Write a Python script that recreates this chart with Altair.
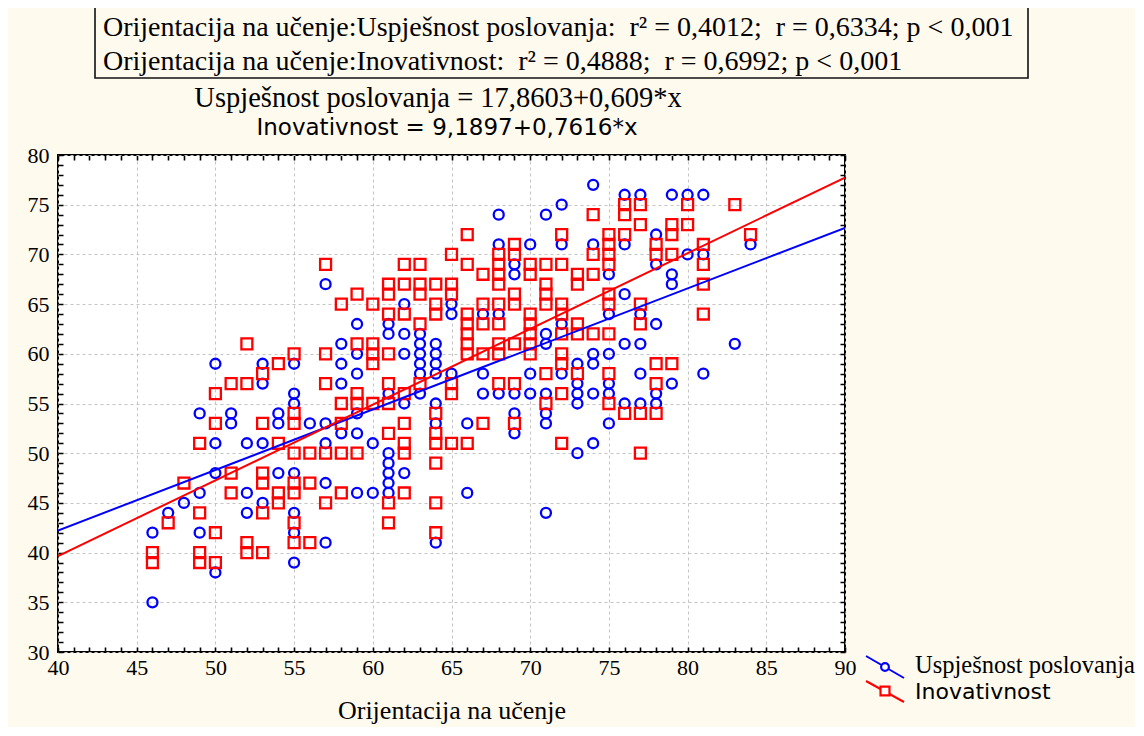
import altair as alt
import pandas as pd

# ---------------- data ----------------
blue_pts = [
    (46, 42), (46, 35), (47, 44), (48, 45),
    (49, 54), (49, 46), (49, 42),
    (50, 59), (50, 51), (50, 48), (50, 38),
    (51, 54), (51, 53),
    (52, 51), (52, 46), (52, 44),
    (53, 59), (53, 57), (53, 51), (53, 45),
    (54, 54), (54, 53), (54, 48),
    (55, 59), (55, 56), (55, 55), (55, 48), (55, 44), (55, 42), (55, 39),
    (56, 53),
    (57, 67), (57, 53), (57, 51), (57, 47), (57, 41),
    (58, 61), (58, 59), (58, 57), (58, 52),
    (59, 63), (59, 60), (59, 58), (59, 54), (59, 52), (59, 46),
    (60, 51), (60, 46),
    (61, 63), (61, 62), (61, 56), (61, 50), (61, 49), (61, 48), (61, 47), (61, 46),
    (62, 65), (62, 62), (62, 60), (62, 55), (62, 48),
    (63, 62), (63, 61), (63, 60), (63, 59), (63, 58), (63, 56),
    (64, 61), (64, 60), (64, 59), (64, 58), (64, 55), (64, 53), (64, 41),
    (65, 65), (65, 64), (65, 58),
    (66, 53), (66, 46),
    (67, 64), (67, 58), (67, 56),
    (68, 74), (68, 71), (68, 64), (68, 56),
    (69, 69), (69, 68), (69, 56), (69, 54), (69, 52),
    (70, 71), (70, 58), (70, 56),
    (71, 74), (71, 62), (71, 61), (71, 56), (71, 54), (71, 53), (71, 44),
    (72, 75), (72, 71), (72, 63), (72, 58),
    (73, 59), (73, 57), (73, 56), (73, 55), (73, 50),
    (74, 77), (74, 71), (74, 60), (74, 59), (74, 56), (74, 51),
    (75, 68), (75, 64), (75, 60), (75, 57), (75, 56), (75, 53),
    (76, 76), (76, 71), (76, 66), (76, 61), (76, 55),
    (77, 76), (77, 64), (77, 61), (77, 58), (77, 55),
    (78, 72), (78, 69), (78, 63), (78, 56), (78, 55),
    (79, 76), (79, 68), (79, 67), (79, 57),
    (80, 76), (80, 70),
    (81, 76), (81, 70), (81, 58),
    (83, 61), (84, 71),
]

red_pts = [
    (46, 40), (46, 39), (47, 43), (48, 47),
    (49, 51), (49, 44), (49, 40), (49, 39),
    (50, 56), (50, 53), (50, 42), (50, 39),
    (51, 57), (51, 48), (51, 46),
    (52, 61), (52, 57), (52, 41), (52, 40),
    (53, 58), (53, 53), (53, 48), (53, 47), (53, 44), (53, 40),
    (54, 59), (54, 51), (54, 46), (54, 45),
    (55, 60), (55, 54), (55, 53), (55, 50), (55, 47), (55, 46), (55, 43), (55, 41),
    (56, 50), (56, 47), (56, 41),
    (57, 69), (57, 60), (57, 57), (57, 50), (57, 45),
    (58, 65), (58, 55), (58, 53), (58, 50), (58, 46),
    (59, 66), (59, 61), (59, 56), (59, 55), (59, 50),
    (60, 65), (60, 61), (60, 60), (60, 59), (60, 55),
    (61, 67), (61, 66), (61, 64), (61, 60), (61, 57), (61, 55), (61, 52), (61, 45), (61, 43),
    (62, 69), (62, 67), (62, 64), (62, 56), (62, 53), (62, 51), (62, 50), (62, 46),
    (63, 69), (63, 67), (63, 66), (63, 63), (63, 57),
    (64, 67), (64, 65), (64, 64), (64, 54), (64, 52), (64, 51), (64, 49), (64, 45), (64, 42),
    (65, 70), (65, 67), (65, 66), (65, 57), (65, 56), (65, 51),
    (66, 72), (66, 69), (66, 64), (66, 63), (66, 62), (66, 61), (66, 60), (66, 51),
    (67, 68), (67, 65), (67, 63), (67, 60), (67, 53),
    (68, 70), (68, 69), (68, 68), (68, 67), (68, 65), (68, 63), (68, 61), (68, 60), (68, 57),
    (69, 71), (69, 70), (69, 66), (69, 65), (69, 61), (69, 57), (69, 53),
    (70, 69), (70, 68), (70, 64), (70, 63), (70, 62), (70, 61), (70, 60),
    (71, 69), (71, 67), (71, 66), (71, 65), (71, 58), (71, 55),
    (72, 72), (72, 69), (72, 65), (72, 64), (72, 62), (72, 60), (72, 59), (72, 56), (72, 51),
    (73, 68), (73, 67), (73, 63), (73, 62), (73, 58),
    (74, 74), (74, 70), (74, 68), (74, 62),
    (75, 72), (75, 71), (75, 70), (75, 69), (75, 66), (75, 65), (75, 62), (75, 58), (75, 55),
    (76, 75), (76, 74), (76, 72), (76, 54),
    (77, 75), (77, 73), (77, 65), (77, 63), (77, 54), (77, 50),
    (78, 71), (78, 70), (78, 59), (78, 57), (78, 54),
    (79, 73), (79, 72), (79, 70), (79, 59),
    (80, 75), (80, 73),
    (81, 71), (81, 69), (81, 67), (81, 64),
    (83, 75), (84, 72),
]

# regression lines as printed on the chart
series_names = ["Uspješnost poslovanja", "Inovativnost"]
intercepts = [17.8603, 9.1897]
slopes = [0.609, 0.7616]
line_x = [40, 90]

x_domain = [40, 90]
y_domain = [30, 80]
x_major = list(range(40, 91, 5))
y_major = list(range(30, 81, 5))
x_minor = list(range(40, 91))
y_minor = list(range(30, 81))

NB = "\u00a0"
stats_lines = [
    f"Orijentacija na učenje:Uspješnost poslovanja:{NB}{NB}r² = 0,4012;{NB}{NB}r = 0,6334; p < 0,001",
    f"Orijentacija na učenje:Inovativnost:{NB}{NB}r² = 0,4888;{NB}{NB}r = 0,6992; p < 0,001",
]
eq_lines = [
    "Uspješnost poslovanja = 17,8603+0,609*x",
    "Inovativnost = 9,1897+0,7616*x",
]
x_title = "Orijentacija na učenje"

# ---------------- build tables ----------------
df_blue = pd.DataFrame(blue_pts, columns=["x", "y"])
df_red = pd.DataFrame(red_pts, columns=["x", "y"])
df_lines = pd.DataFrame(
    [
        {"s": name, "x": xv, "y": a + b * xv, "o": i}
        for name, a, b in zip(series_names, intercepts, slopes)
        for i, xv in enumerate(line_x)
    ]
)
one = pd.DataFrame({"k": [0]})

W, H = 787, 497
SERIF = "Liberation Serif"
SANS = "DejaVu Sans"
BLUE = "#0000FF"
RED = "#FF0000"
GRID = "#c4c4c4"

# major axes: labels + dashed grey grid
x_axis_major = alt.Axis(
    orient="bottom", values=x_major, labelOverlap=False, labelFlush=False,
    labelFont=SERIF, labelFontSize=22,
    labelColor="black", labelPadding=5, ticks=False, domain=False,
    grid=True, gridColor=GRID, gridDash=[3, 3], gridWidth=1,
    title=x_title, titleFont=SERIF, titleFontSize=26, titleFontWeight="normal",
    titleColor="black", titlePadding=19,
)
y_axis_major = alt.Axis(
    orient="left", values=y_major, labelOverlap=False, labelFlush=False,
    labelFont=SERIF, labelFontSize=22,
    labelColor="black", labelPadding=9, ticks=False, domain=False,
    grid=True, gridColor=GRID, gridDash=[3, 3], gridWidth=1, title=None,
)
# minor axes: only the short inward tick marks on every side of the frame
x_axis_minor = alt.Axis(
    orient="top", values=x_minor, labels=False, ticks=False, domain=False,
    grid=True, gridColor="black", gridDash=[5, H - 10, 5, 3000], gridWidth=1.6, title=None,
)
y_axis_minor = alt.Axis(
    orient="right", values=y_minor, labels=False, ticks=False, domain=False,
    grid=True, gridColor="black", gridDash=[5, W - 10, 5, 3000], gridWidth=1.6, title=None,
)

xs = alt.Scale(domain=x_domain, nice=False, zero=False)
ys = alt.Scale(domain=y_domain, nice=False, zero=False)

blue_layer = alt.Chart(df_blue).mark_point(
    shape="circle", filled=False, color=BLUE, size=100, strokeWidth=2.3, opacity=1
).encode(x=alt.X("x:Q", scale=xs, axis=x_axis_major), y=alt.Y("y:Q", scale=ys, axis=y_axis_major))

red_layer = alt.Chart(df_red).mark_point(
    shape="square", filled=False, color=RED, size=120, strokeWidth=2.3, opacity=1
).encode(x=alt.X("x:Q", scale=xs, axis=x_axis_minor), y=alt.Y("y:Q", scale=ys, axis=y_axis_minor))

line_layer = alt.Chart(df_lines).mark_line(strokeWidth=2, clip=True).encode(
    x=alt.X("x:Q", scale=xs, axis=None),
    y=alt.Y("y:Q", scale=ys, axis=None),
    color=alt.Color("s:N", scale=alt.Scale(domain=series_names, range=[BLUE, RED]), legend=None),
    order="o:Q",
)

# ---------- annotation box at the top ----------
box = alt.Chart(one).mark_rect(fillOpacity=0, stroke="#111111", strokeWidth=1.6).encode(
    x=alt.value(37), x2=alt.value(970), y=alt.value(-175), y2=alt.value(-77)
)
stat1 = alt.Chart(one).mark_text(
    text=stats_lines[0], align="left", baseline="middle", font=SERIF, fontSize=28, color="black"
).encode(x=alt.value(45), y=alt.value(-127))
stat2 = alt.Chart(one).mark_text(
    text=stats_lines[1], align="left", baseline="middle", font=SERIF, fontSize=28, color="black"
).encode(x=alt.value(45), y=alt.value(-93))
eq1 = alt.Chart(one).mark_text(
    text=eq_lines[0], align="center", baseline="middle", font=SERIF, fontSize=28.5, color="black"
).encode(x=alt.value(380), y=alt.value(-57))
eq2 = alt.Chart(one).mark_text(
    text=eq_lines[1], align="center", baseline="middle", font=SANS, fontSize=23, color="black"
).encode(x=alt.value(389), y=alt.value(-27))

# ---------- legend (bottom right) ----------
leg_b_line = alt.Chart(one).mark_rule(color=BLUE, strokeWidth=2).encode(
    x=alt.value(808), x2=alt.value(846), y=alt.value(501), y2=alt.value(523)
)
leg_b_pt = alt.Chart(one).mark_point(
    shape="circle", filled=True, fill="white", stroke=BLUE, strokeWidth=2.2, size=60, opacity=1
).encode(x=alt.value(827), y=alt.value(512))
leg_b_txt = alt.Chart(one).mark_text(
    text=series_names[0], align="left", baseline="middle", font=SERIF, fontSize=24.5, color="black"
).encode(x=alt.value(857), y=alt.value(511))
leg_r_line = alt.Chart(one).mark_rule(color=RED, strokeWidth=2).encode(
    x=alt.value(808), x2=alt.value(846), y=alt.value(526), y2=alt.value(547)
)
leg_r_pt = alt.Chart(one).mark_point(
    shape="square", filled=True, fill="white", stroke=RED, strokeWidth=2.2, size=80, opacity=1
).encode(x=alt.value(827), y=alt.value(536))
leg_r_txt = alt.Chart(one).mark_text(
    text=series_names[1], align="left", baseline="middle", font=SANS, fontSize=22, color="black"
).encode(x=alt.value(857), y=alt.value(537))

chart = (
    alt.layer(
        blue_layer, red_layer, line_layer,
        box, stat1, stat2, eq1, eq2,
        leg_b_line, leg_b_pt, leg_b_txt, leg_r_line, leg_r_pt, leg_r_txt,
    )
    .resolve_axis(x="independent", y="independent")
    .properties(
        width=W,
        height=H,
        autosize=alt.AutoSizeParams(type="none"),
        padding={"left": 50, "top": 147, "right": 290, "bottom": 75},
    )
    .configure(background="#FFFAEE")
    .configure_view(fill="white", stroke="black", strokeWidth=2)
)

chart.save("out.html", embed_options={"renderer": "svg", "actions": False})
